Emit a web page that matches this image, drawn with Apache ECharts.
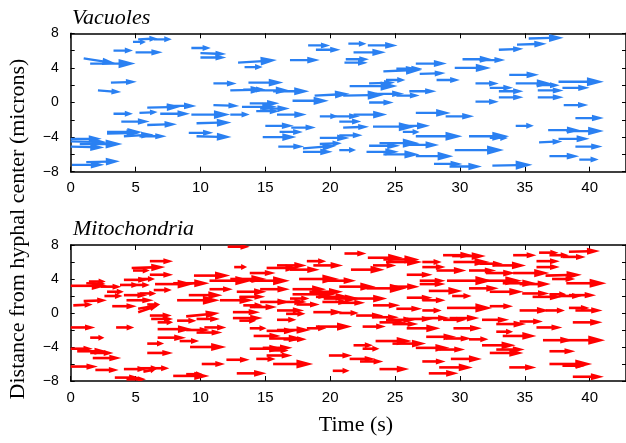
<!DOCTYPE html>
<html><head><meta charset="utf-8">
<script src="https://cdn.jsdelivr.net/npm/echarts@6/dist/echarts.min.js"></script>
<style>html,body{margin:0;padding:0;background:#fff}#c{width:626px;height:443px}</style>
</head><body><div id="c"></div>
<script>
// Tick values
const xTickLabels = [0, 5, 10, 15, 20, 25, 30, 35, 40];
const yTickLabels = [-8, -4, 0, 4, 8];

// Arrows: [time start, position start, dTime, dPosition]
const vacuoles = [
[4.8,7.0,1.0,0],[5.2,7.3,1.5,0.1],[6.4,7.3,1.4,0],[3.3,6.0,1.5,0],[5.0,5.8,2.1,0],[9.3,6.3,1.5,0],[10.0,5.7,2.0,-0.1],[10.0,5.2,2.0,0],[1.0,5.1,2.5,-0.6],[1.5,4.5,3.5,0],
[3.1,2.3,2.0,0.1],[2.1,1.4,1.8,-0.2],[3.3,-1.3,1.5,0],[5.3,-1.2,1.4,0.1],[5.9,-0.6,2.6,0.1],[7.4,-0.4,2.3,0],[6.9,-1.3,2.3,0],[3.9,-2.2,2.2,0],[5.9,-2.6,2.3,0.1],[2.8,-3.4,2.7,0],
[2.8,-3.6,2.6,0.1],[4.1,-3.9,2.3,0.2],[5.3,-3.9,2.1,0],[0,-4.2,2.4,0],[0,-4.5,2.8,-0.1],[0.7,-4.8,3.3,0],[0,-5.1,2.6,-0.1],[0.1,-7.2,2.5,0],[1.2,-6.9,2.6,0.1],[9.3,-1.4,3.0,0],
[9.7,-2.4,2.7,0.1],[9.1,-3.5,1.9,0],[9.7,-3.9,2.7,-0.1],[11.0,2.2,1.8,0],[11.0,-0.3,2.0,-0.1],[12.9,4.6,3.0,0.3],[13.4,4.1,1.4,0],[16.9,4.9,2.3,0],[18.3,6.6,1.7,0],[18.9,6.1,1.9,0],
[13.7,2.3,2.7,0],[12.3,1.4,2.7,0.1],[13.3,1.5,1.7,0],[14.3,1.4,2.6,0],[15.6,1.3,2.8,0],[18.8,0.8,2.7,0.2],[17.1,0.2,2.8,0],[13.2,-0.5,2.7,0],[13.8,-0.1,2.3,0],[14.6,-0.7,2.3,0],
[14.3,-1.0,1.8,0],[12.3,-1.4,1.5,0],[15.9,-1.4,2.3,0],[15.0,-2.7,2.2,0],[17.0,-2.9,1.9,0],[16.1,-3.4,1.8,0],[14.8,-4.0,2.6,0],[19.2,-1.6,1.4,0],[19.2,-4.1,2.3,0],[16.0,-5.1,2.0,0],
[17.9,-5.3,2.6,0.3],[17.9,-5.7,2.3,0],[19.2,-4.8,1.7,0.1],[21.4,6.8,1.4,0],[22.9,6.6,2.3,0],[21.8,5.8,2.5,0],[21.2,5.0,1.8,0],[21.1,4.6,1.8,0],[26.6,4.5,2.4,0],[24.1,3.6,3.0,0.2],
[25.1,3.9,2.0,0],[26.9,3.3,2.0,0.1],[28.2,2.6,1.8,0],[29.6,4.0,2.8,0],[30.2,5.0,2.3,0],[24.3,2.6,1.5,0],[23.0,2.2,2.0,0.1],[21.5,1.9,3.7,0],[21.0,0.8,3.2,0.1],[23.5,1.0,2.2,0],
[25.1,0.8,1.8,0],[26.1,1.3,2.1,0],[23.0,0.0,1.9,0],[21.8,-1.4,2.6,0],[20.3,-1.6,2.0,0],[26.6,-1.2,2.7,0],[28.9,-1.6,2.2,0],[20.7,-2.2,1.7,0],[21.0,-2.9,2.0,0.1],[23.3,-2.8,3.3,0],
[25.3,-2.7,2.4,0],[25.6,-3.4,1.3,0],[26.6,-3.9,3.6,0],[20.7,-3.8,1.8,0],[20.7,-5.5,1.3,0],[23.0,-5.0,2.4,0],[23.8,-4.7,3.1,0],[25.9,-4.9,2.5,0],[22.8,-5.7,2.5,0],[24.1,-6.0,2.8,0],
[26.6,-6.2,2.9,0],[28.0,-7.1,2.2,0],[29.2,-7.4,2.5,0],[31.5,4.9,2.0,0],[33.0,6.1,1.9,0.1],[34.4,6.7,2.3,0.1],[35.3,7.4,2.7,0.1],[31.2,2.2,1.8,0],[33.8,3.2,2.3,0],[34.3,2.2,2.8,0],
[35.9,2.0,1.8,0],[32.3,1.7,1.8,0],[33.0,1.3,1.9,0],[36.0,1.4,2.0,0],[37.6,2.4,3.5,0],[37.9,1.7,2.1,0],[33.0,0.6,1.9,0],[36.0,0.6,2.0,0],[31.2,0.1,1.8,0],[38.0,-0.3,1.9,0],
[38.9,-1.8,2.2,0],[34.3,-2.7,1.4,0],[36.8,-3.2,2.5,0],[38.2,-3.3,2.9,0],[36.1,-4.6,1.8,0.1],[37.6,-4.2,2.4,0],[38.9,-5.1,2.1,0],[30.7,-3.9,3.1,0],[32.3,-4.1,1.4,0],[29.6,-5.5,3.8,0],
[36.9,-6.2,2.3,0],[39.2,-6.6,1.5,0],[32.5,-7.3,3.1,0.1]
];

const mitochondria = [
[6.1,6.1,1.8,0],[4.7,5.3,2.6,0.1],[6.1,4.5,1.8,0],[0,3.2,2.8,0],[1.2,3.5,1.5,-0.1],[1.4,3.7,1.3,0],[4.1,3.9,1.9,0],[5.2,4.0,1.3,0],[2.3,3.1,1.6,0],[2.8,2.5,1.3,0],
[3.8,3.3,1.5,0],[4.7,3.3,1.4,0],[6.5,3.4,3.0,0],[7.9,3.5,2.8,0],[6.4,2.7,1.4,0],[2.6,2.0,1.4,0],[4.1,2.1,1.8,0],[5.3,2.3,1.3,0],[1.0,1.4,1.8,0.1],[0.2,0.9,1.5,0.1],
[3.2,0.8,1.9,0],[4.3,1.5,2.1,0],[5.2,0.1,1.6,0.8],[5.9,1.0,1.0,0],[5.2,0.5,1.5,0.4],[6.1,-0.3,1.7,0],[6.2,-0.7,1.7,0],[8.2,-0.9,1.5,0],[8.9,-0.4,2.6,0.4],[9.7,-0.7,1.8,0],
[0,-1.7,1.9,0],[3.5,-1.7,1.4,0],[1.5,-2.9,1.1,0],[6.7,-1.9,2.7,0],[8.9,-2.0,1.8,0],[6.7,-2.9,2.2,0],[5.9,-3.6,1.3,0],[8.4,-3.3,1.5,0],[9.2,-4.0,2.8,0],[0,-4.2,1.7,0],
[0.5,-4.5,2.3,0],[1.7,-5.3,2.2,0],[5.9,-4.7,2.0,0],[0,-6.3,2.1,0],[1.9,-6.7,1.8,0],[4.1,-6.6,1.8,0],[5.3,-6.5,1.5,0],[6.1,-6.5,1.5,0],[3.4,-7.6,1.9,0],[4.3,-7.8,1.5,0],
[5.6,-6.9,1.0,0.3],[7.9,-7.4,2.8,0],[10.1,-6.0,1.8,0],[9.7,-2.3,2.0,0],[8.9,-7.2,1.3,0],[4.8,5.0,1.3,0],[6.7,-1.1,1.2,0],[1.5,-4.7,1.8,0],[8.2,1.5,3.3,0],[9.1,2.1,2.6,0],
[12.1,7.8,1.7,0],[12.6,5.4,1.0,0],[15.1,5.3,2.5,0],[15.9,5.6,2.3,0],[16.9,5.1,2.3,0],[18.2,6.1,1.5,0],[18.7,5.6,2.3,0],[9.5,4.4,2.8,0],[12.3,4.0,2.8,0],[10.7,3.8,3.3,0],
[13.8,4.7,2.0,0],[13.8,3.8,3.1,0],[17.6,4.0,3.1,0],[10.7,2.8,1.8,0],[12.8,2.5,2.3,0],[14.6,2.8,2.3,0],[17.1,2.8,2.6,0],[17.1,2.2,3.3,0],[18.4,2.5,2.6,0],[18.9,1.9,2.6,0],
[11.5,1.5,2.6,0],[13.0,1.9,2.0,0],[13.3,0.9,1.5,0],[14.6,1.3,2.3,0],[15.9,1.3,2.3,0],[16.9,1.7,1.5,0],[17.4,1.0,1.8,0],[19.4,1.3,2.1,0],[13.8,0.7,2.1,0],[12.5,0.1,2.1,0],
[15.9,0.3,2.1,0],[16.6,-0.1,1.5,0],[18.7,0.1,2.3,0],[12.5,-0.6,2.3,0],[13.0,-0.9,1.3,0],[15.9,-0.8,1.5,0],[10.3,-1.7,1.7,0],[13.8,-1.8,1.3,0],[15.1,-2.1,2.3,0],[15.9,-2.0,2.6,0],
[18.2,-1.8,1.5,0],[18.9,-1.6,2.8,0],[14.1,-2.7,2.1,0],[15.3,-3.0,2.6,0],[16.4,-3.1,1.8,0],[13.8,-4.2,2.6,0],[14.8,-4.1,2.3,0],[15.3,-4.4,1.5,0],[12.0,-5.5,1.8,0],[14.3,-5.4,1.5,0],
[15.1,-5.0,2.0,0],[15.6,-6.0,3.1,0],[12.8,-7.1,2.3,0],[19.9,-5.0,1.8,0],[20.2,-6.8,1.3,0],
[21.1,7.0,1.7,0],[22.9,6.5,2.7,0],[24.1,6.3,2.8,0],[24.3,6.0,2.8,0],[23.3,5.6,1.8,0],[27.1,6.0,1.5,0],[27.1,5.4,1.8,0],[28.7,6.8,2.3,0],[29.4,6.7,2.6,0],[21.6,5.1,2.6,0],
[28.2,5.0,2.3,0],[25.9,4.5,2.0,0],[19.7,3.8,2.3,0],[26.9,3.8,2.0,0],[20.7,3.1,2.8,0],[22.8,2.9,3.1,0],[24.6,3.1,2.3,0],[26.9,3.4,2.0,0],[27.6,2.6,2.6,0],[19.5,1.7,2.8,0],
[21.8,1.7,2.6,0],[20.7,1.2,2.0,0],[25.9,1.8,2.0,0],[27.1,1.5,1.8,0],[29.4,2.0,1.5,0],[23.3,0.9,2.1,0],[25.1,0.5,2.0,0],[27.1,0.3,1.5,0],[20.7,0.0,1.5,0],[22.0,-0.3,2.1,0],
[23.3,-0.5,2.0,0],[24.3,-0.8,2.3,0],[23.8,-1.1,2.0,0],[24.8,-1.3,2.0,0],[25.9,-0.7,2.0,0],[27.1,-0.6,2.1,0],[28.7,-0.8,1.8,0],[29.2,-0.6,2.3,0],[22.5,-1.6,1.8,0],[25.9,-1.8,2.6,0],
[27.4,-2.8,2.3,0],[28.9,-3.0,2.0,0],[23.5,-3.3,2.8,0],[24.8,-3.6,2.6,0],[21.8,-3.8,1.5,0],[22.5,-4.2,1.3,0],[26.6,-4.1,2.6,0],[28.4,-4.3,2.0,0],[21.5,-5.4,2.0,0],[22.3,-5.7,1.8,0],
[27.1,-5.7,1.8,0],[23.8,-6.6,2.3,0],[28.4,-6.4,2.6,0],[27.6,-7.1,2.3,0],
[34.1,6.8,1.8,0],[36.1,7.1,1.5,0],[36.9,6.8,1.5,0],[38.4,7.2,2.4,0.1],[37.9,6.6,1.8,0],[29.5,6.0,2.8,0],[31.5,5.8,1.8,0],[32.5,5.6,2.6,0],[35.9,6.1,1.8,0],[35.9,5.4,1.8,0],
[30.7,5.0,2.1,0],[32.0,4.7,2.3,0],[34.1,4.7,2.8,0],[36.6,4.4,2.8,0.1],[37.1,4.0,1.8,0],[29.0,3.8,3.5,0],[31.7,3.8,3.1,0],[33.3,3.5,2.6,0],[34.6,3.4,2.4,0],[38.2,3.5,3.1,0],
[30.7,2.9,2.3,0],[32.3,2.5,2.6,0],[34.8,2.3,2.1,0],[36.9,2.2,1.3,0],[35.6,1.9,2.3,0],[37.6,2.0,1.8,0],[38.4,2.1,2.1,0],[29.0,0.6,3.5,0],[32.3,0.8,1.8,0],[34.6,0.3,2.3,0],
[36.6,0.3,1.5,0],[38.4,0.6,1.6,0],[38.9,0.3,2.1,0],[31.7,-0.8,2.1,0],[32.8,-1.3,2.3,0],[34.6,-1.0,1.8,0],[35.9,-1.7,2.0,0],[38.7,-1.1,2.3,0],[29.5,-1.8,2.2,0],[32.8,-2.2,1.3,0],
[33.3,-2.7,2.6,0],[36.4,-3.2,2.3,0],[37.9,-3.2,3.3,0],[30.7,-3.1,1.5,0],[31.7,-3.8,2.6,0],[32.8,-4.3,2.2,0],[32.3,-4.7,2.6,0],[36.9,-4.5,2.0,0],[29.3,-5.4,2.4,0],[33.8,-6.4,2.1,0],
[36.9,-6.0,3.3,0],[37.9,-6.2,1.8,0],[38.7,-7.5,2.4,0]
];

const blue = '#2a80f2', red = '#ff0000';
const SANS = '"Liberation Sans", Arial, sans-serif';
const SERIF = '"Liberation Serif", "Times New Roman", serif';

function arrowRenderer(color, lw) {
  return function (params, api) {
    const x = api.value(0), y = api.value(1), u = api.value(2), v = api.value(3);
    const p0 = api.coord([x, y]), p1 = api.coord([x + u, y + v]);
    const dx = p1[0] - p0[0], dy = p1[1] - p0[1];
    const L = Math.hypot(dx, dy) || 1;
    const ux = dx / L, uy = dy / L;
    const hl = Math.min(Math.max(L * 0.42, 6), 17), hw = Math.max(hl * 0.27, 3);
    const bx = p1[0] - ux * hl, by = p1[1] - uy * hl;
    return {
      type: 'group',
      children: [
        { type: 'line', shape: { x1: p0[0], y1: p0[1], x2: bx + ux * 2, y2: by + uy * 2 }, style: { stroke: color, lineWidth: lw } },
        { type: 'polygon', shape: { points: [[p1[0], p1[1]], [bx - uy * hw, by + ux * hw], [bx + uy * hw, by - ux * hw]] }, style: { fill: color } }
      ]
    };
  };
}

const XMAX = 42.8;
function xAx(grid, pos, labels) {
  return {
    gridIndex: grid, type: 'value', position: pos, min: 0, max: XMAX, interval: 5,
    axisLine: { show: true, onZero: false, lineStyle: { color: '#000', width: 1.5 } },
    axisTick: { show: true, inside: true, length: 5, lineStyle: { color: '#000', width: 1 } },
    axisLabel: { show: labels, showMaxLabel: false, color: '#000', fontSize: 15, fontFamily: SANS, margin: 9,
      formatter: v => xTickLabels.indexOf(v) >= 0 ? String(v) : '' },
    splitLine: { show: false }
  };
}
function yAx(grid, pos, labels) {
  return {
    gridIndex: grid, type: 'value', position: pos, min: -8, max: 8, interval: 2,
    axisLine: { show: true, onZero: false, lineStyle: { color: '#000', width: 1.5 } },
    axisTick: { show: true, inside: true, length: 4, lineStyle: { color: '#000', width: 1 } },
    axisLabel: { show: labels, color: '#000', fontSize: 14, fontFamily: SANS, margin: 12,
      formatter: v => yTickLabels.indexOf(v) >= 0 ? (v < 0 ? '\u2212' + (-v) : String(v)) : '' },
    splitLine: { show: false }
  };
}

const chart = echarts.init(document.getElementById('c'), null, { renderer: 'canvas' });
chart.setOption({
  animation: false,
  backgroundColor: '#fff',
  grid: [
    { left: 70.7, top: 33.3, width: 556.4, height: 138.4 },
    { left: 70.7, top: 245, width: 556.4, height: 136 }
  ],
  xAxis: [xAx(0, 'bottom', true), xAx(0, 'top', false), xAx(1, 'bottom', true), xAx(1, 'top', false)],
  yAxis: [yAx(0, 'left', true), yAx(0, 'right', false), yAx(1, 'left', true), yAx(1, 'right', false)],
  series: [
    { type: 'custom', coordinateSystem: 'cartesian2d', xAxisIndex: 0, yAxisIndex: 0, data: vacuoles,
      encode: { x: 0, y: 1 }, renderItem: arrowRenderer(blue, 2.3), clip: true, silent: true },
    { type: 'custom', coordinateSystem: 'cartesian2d', xAxisIndex: 2, yAxisIndex: 2, data: mitochondria,
      encode: { x: 0, y: 1 }, renderItem: arrowRenderer(red, 2.6), clip: true, silent: true }
  ],
  graphic: [
    { type: 'text', x: 72, y: 18.5, style: { text: 'Vacuoles', font: 'italic 22px ' + SERIF, fill: '#000', verticalAlign: 'middle', align: 'left' } },
    { type: 'text', x: 73, y: 229, style: { text: 'Mitochondria', font: 'italic 22px ' + SERIF, fill: '#000', verticalAlign: 'middle', align: 'left' } },
    { type: 'text', x: 356, y: 425, style: { text: 'Time (s)', font: '22px ' + SERIF, fill: '#000', verticalAlign: 'middle', align: 'center' } },
    { type: 'text', x: 18, y: 229, rotation: Math.PI / 2, style: { text: 'Distance from hyphal center (microns)', font: '22px ' + SERIF, fill: '#000', verticalAlign: 'middle', align: 'center' } }
  ]
});
</script>
</body></html>
